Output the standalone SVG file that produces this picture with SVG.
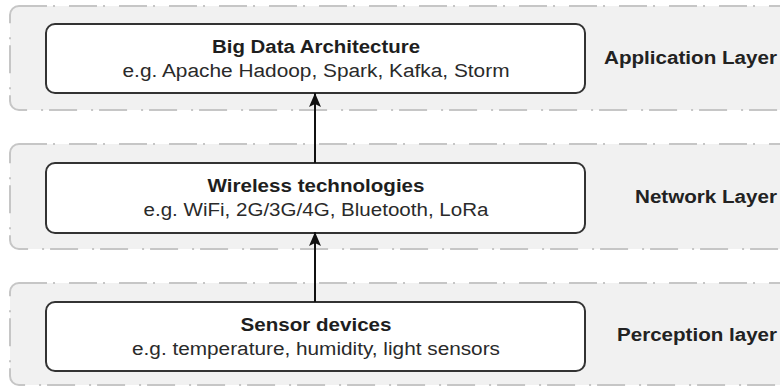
<svg xmlns="http://www.w3.org/2000/svg" width="780" height="387" viewBox="0 0 780 387">
  <defs>
    <style>
      .band { fill: #f1f1f1; stroke: #c6c6c6; stroke-width: 2; stroke-dasharray: 28 6 2 14; }
      .box { fill: #ffffff; stroke: #333333; stroke-width: 2; }
      .title { font-family: "Liberation Sans", Arial, sans-serif; font-size: 18px; font-weight: bold; fill: #1e1e1e; text-anchor: middle; }
      .sub { font-family: "Liberation Sans", Arial, sans-serif; font-size: 18px; fill: #2a2a2a; text-anchor: middle; }
      .layer { font-family: "Liberation Sans", Arial, sans-serif; font-size: 18px; font-weight: bold; fill: #222222; }
      .edge { fill: none; stroke: #111111; stroke-width: 2; marker-end: url(#arrow); }
    </style>
    <!-- notched block arrowhead, tip sits on the path end -->
    <marker id="arrow" markerUnits="userSpaceOnUse" markerWidth="16" markerHeight="14" viewBox="-15 -7 16 14" refX="0" refY="0" orient="auto">
      <path d="M0 0 L-14 -6 L-11 0 L-14 6 Z" fill="#111111"/>
    </marker>
  </defs>

  <!-- layer bands -->
  <g id="layer-application">
    <rect class="band" x="10" y="6" width="790" height="104" rx="9"/>
    <text class="layer" x="604" y="64" textLength="173" lengthAdjust="spacingAndGlyphs">Application Layer</text>
  </g>
  <g id="layer-network">
    <rect class="band" x="10" y="144" width="790" height="105" rx="9"/>
    <text class="layer" x="635" y="203" textLength="142" lengthAdjust="spacingAndGlyphs">Network Layer</text>
  </g>
  <g id="layer-perception">
    <rect class="band" x="10" y="283" width="790" height="102" rx="9"/>
    <text class="layer" x="617" y="341" textLength="160" lengthAdjust="spacingAndGlyphs">Perception layer</text>
  </g>

  <!-- nodes -->
  <g id="node-bigdata">
    <rect class="box" x="46" y="24" width="539" height="69" rx="9"/>
    <text class="title" x="316" y="53" textLength="208" lengthAdjust="spacingAndGlyphs">Big Data Architecture</text>
    <text class="sub" x="316" y="77" textLength="387" lengthAdjust="spacingAndGlyphs">e.g. Apache Hadoop, Spark, Kafka, Storm</text>
  </g>
  <g id="node-wireless">
    <rect class="box" x="46" y="163" width="539" height="70" rx="9"/>
    <text class="title" x="316" y="192" textLength="217" lengthAdjust="spacingAndGlyphs">Wireless technologies</text>
    <text class="sub" x="316" y="216" textLength="345" lengthAdjust="spacingAndGlyphs">e.g. WiFi, 2G/3G/4G, Bluetooth, LoRa</text>
  </g>
  <g id="node-sensors">
    <rect class="box" x="46" y="302" width="539" height="69" rx="9"/>
    <text class="title" x="316" y="331" textLength="151" lengthAdjust="spacingAndGlyphs">Sensor devices</text>
    <text class="sub" x="316" y="355" textLength="368" lengthAdjust="spacingAndGlyphs">e.g. temperature, humidity, light sensors</text>
  </g>

  <!-- connectors -->
  <g id="connectors">
    <path class="edge" d="M315 163 L315 93"/>
    <path class="edge" d="M315 302 L315 232"/>
  </g>
</svg>
